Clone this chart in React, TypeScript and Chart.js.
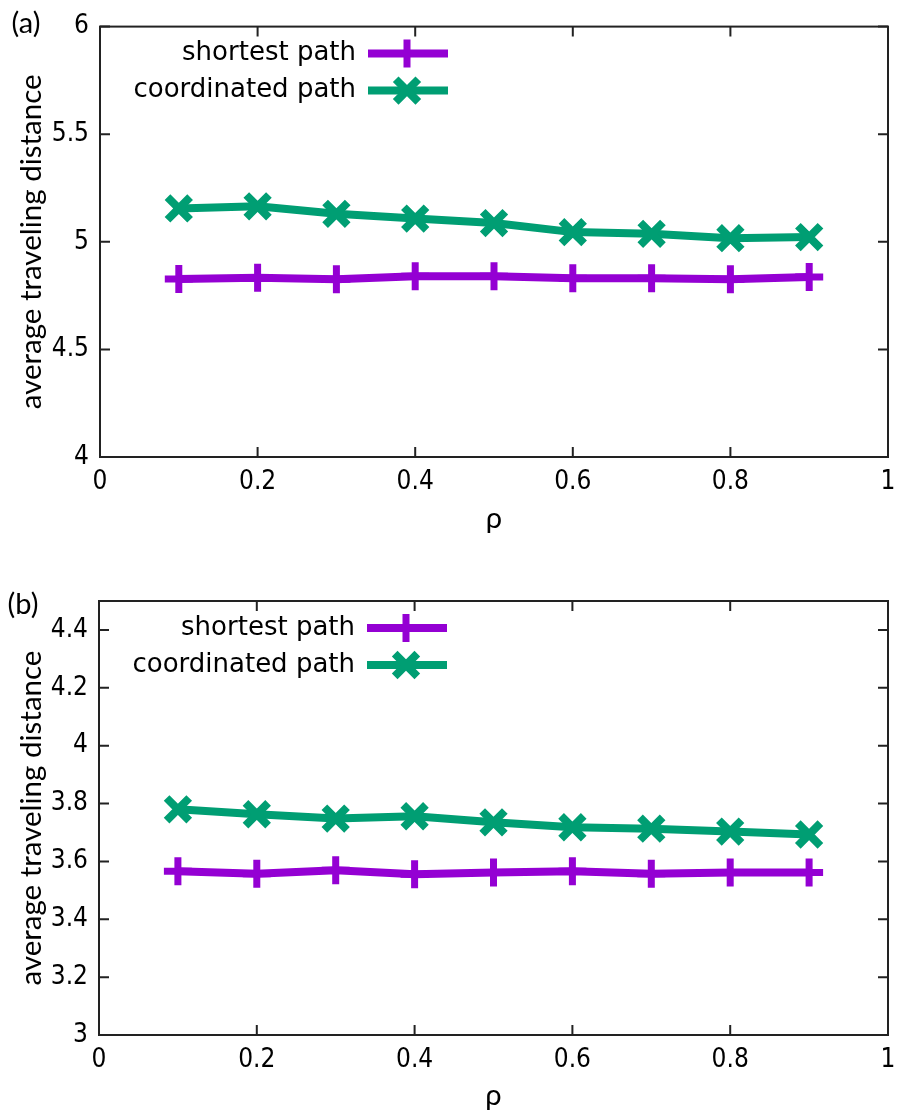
import React, { useEffect, useRef } from 'react';
import { Chart, registerables } from 'chart.js';

Chart.register(...registerables);

// ---------- data ----------
const RHO = [0.1, 0.2, 0.3, 0.4, 0.5, 0.6, 0.7, 0.8, 0.9];

const A_SHORTEST = [4.827, 4.833, 4.826, 4.840, 4.840, 4.831, 4.831, 4.826, 4.837];
const A_COORDINATED = [5.155, 5.165, 5.130, 5.108, 5.087, 5.045, 5.037, 5.017, 5.022];

const B_SHORTEST = [3.566, 3.557, 3.569, 3.556, 3.562, 3.566, 3.557, 3.562, 3.562];
const B_COORDINATED = [3.780, 3.763, 3.748, 3.756, 3.735, 3.718, 3.713, 3.703, 3.693];

const X_TICKS = [0, 0.2, 0.4, 0.6, 0.8, 1];
const A_Y_TICKS = [4, 4.5, 5, 5.5, 6];
const B_Y_TICKS = [3, 3.2, 3.4, 3.6, 3.8, 4, 4.2, 4.4];

const SERIES_LABELS = ['shortest path', 'coordinated path'];
const PANEL_LABELS = ['(a)', '(b)'];
const X_TITLE = 'ρ';
const Y_TITLE = 'average traveling distance';

// ---------- styles ----------
const PURPLE = '#9400D3';
const GREEN = '#009E73';
const FRAME = '#222222';
const TICK_FONT = "'DejaVu Sans Condensed', 'DejaVu Sans', sans-serif";
const LEGEND_FONT = "'DejaVu Sans', sans-serif";
const TITLE_FONT = "Lato, 'Noto Sans', sans-serif";

type PanelCfg = {
  label: string;
  shortest: number[];
  coordinated: number[];
  yMin: number;
  yMax: number;
  yTicks: number[];
  top: number;
  height: number;
  area: { left: number; right: number; top: number; bottom: number };
  xTitlePad: number;
  labelPos: { x: number; y: number };
};

const PANELS: PanelCfg[] = [
  {
    label: PANEL_LABELS[0],
    shortest: A_SHORTEST,
    coordinated: A_COORDINATED,
    yMin: 4,
    yMax: 6,
    yTicks: A_Y_TICKS,
    top: 0,
    height: 556,
    area: { left: 100, right: 900, top: 24, bottom: 457 },
    xTitlePad: 20,
    labelPos: { x: 26, y: 24 },
  },
  {
    label: PANEL_LABELS[1],
    shortest: B_SHORTEST,
    coordinated: B_COORDINATED,
    yMin: 3,
    yMax: 4.5,
    yTicks: B_Y_TICKS,
    top: 556,
    height: 557,
    area: { left: 99, right: 904, top: 45, bottom: 479 },
    xTitlePad: 0,
    labelPos: { x: 23, y: 49 },
  },
];

const fmt = (v: number) => String(Math.round(v * 100) / 100);

function drawMarker(ctx: CanvasRenderingContext2D, kind: 'plus' | 'x', x: number, y: number, r: number) {
  ctx.beginPath();
  if (kind === 'plus') {
    ctx.moveTo(x - r, y);
    ctx.lineTo(x + r, y);
    ctx.moveTo(x, y - r);
    ctx.lineTo(x, y + r);
  } else {
    const d = r * Math.SQRT1_2;
    ctx.moveTo(x - d, y - d);
    ctx.lineTo(x + d, y + d);
    ctx.moveTo(x - d, y + d);
    ctx.lineTo(x + d, y - d);
  }
  ctx.stroke();
}

const MARK_R = [14, 16];
const MARK_W = [7, 8];
const LINE_W = 8;

function makePlugin(cfg: PanelCfg) {
  return {
    id: 'gnuplotFrame',
    afterDraw(chart: any) {
      const { ctx, chartArea } = chart;
      const { left, right, top, bottom } = chartArea;
      const xs = chart.scales.x;
      const ys = chart.scales.y;
      ctx.save();
      // frame
      ctx.strokeStyle = FRAME;
      ctx.lineWidth = 2;
      ctx.strokeRect(left, top, right - left, bottom - top);
      // inward ticks, mirrored
      const TL = 10;
      ctx.beginPath();
      xs.ticks.forEach((t: any) => {
        const px = xs.getPixelForValue(t.value);
        ctx.moveTo(px, bottom);
        ctx.lineTo(px, bottom - TL);
        ctx.moveTo(px, top);
        ctx.lineTo(px, top + TL);
      });
      ys.ticks.forEach((t: any) => {
        const py = ys.getPixelForValue(t.value);
        ctx.moveTo(left, py);
        ctx.lineTo(left + TL, py);
        ctx.moveTo(right, py);
        ctx.lineTo(right - TL, py);
      });
      ctx.stroke();

      // legend (gnuplot style)
      const textRight = left + 256;
      const lineStart = left + 268;
      const lineEnd = left + 348;
      const markX = left + 307;
      const rows = [top + 27, top + 64];
      const colors = [PURPLE, GREEN];
      const kinds: ('plus' | 'x')[] = ['plus', 'x'];
      ctx.font = `26px ${LEGEND_FONT}`;
      ctx.textAlign = 'right';
      ctx.textBaseline = 'middle';
      SERIES_LABELS.forEach((lab, i) => {
        ctx.fillStyle = '#000';
        ctx.fillText(lab, textRight, rows[i]);
        ctx.strokeStyle = colors[i];
        ctx.lineWidth = LINE_W;
        ctx.lineCap = 'butt';
        ctx.beginPath();
        ctx.moveTo(lineStart, rows[i]);
        ctx.lineTo(lineEnd, rows[i]);
        ctx.stroke();
        ctx.lineWidth = MARK_W[i];
        drawMarker(ctx, kinds[i], markX, rows[i], MARK_R[i]);
      });

      // panel label
      ctx.font = `29px ${TITLE_FONT}`;
      ctx.textAlign = 'center';
      ctx.textBaseline = 'middle';
      ctx.fillStyle = '#000';
      ctx.fillText(cfg.label, cfg.labelPos.x, cfg.labelPos.y);
      ctx.restore();
    },
  };
}

function Panel({ cfg }: { cfg: PanelCfg }) {
  const ref = useRef<HTMLCanvasElement>(null);
  useEffect(() => {
    if (!ref.current) return;
    const a = cfg.area;
    const mk = (arr: number[]) => RHO.map((x, i) => ({ x, y: arr[i] }));
    const chart = new Chart(ref.current, {
      type: 'line',
      data: {
        datasets: [
          {
            label: SERIES_LABELS[0],
            data: mk(cfg.shortest),
            borderColor: PURPLE,
            backgroundColor: PURPLE,
            borderWidth: LINE_W,
            pointStyle: 'cross',
            pointRadius: MARK_R[0],
            pointBorderWidth: MARK_W[0],
            pointBorderColor: PURPLE,
            borderJoinStyle: 'round',
            tension: 0,
            fill: false,
          },
          {
            label: SERIES_LABELS[1],
            data: mk(cfg.coordinated),
            borderColor: GREEN,
            backgroundColor: GREEN,
            borderWidth: LINE_W,
            pointStyle: 'crossRot',
            pointRadius: MARK_R[1],
            pointBorderWidth: MARK_W[1],
            pointBorderColor: GREEN,
            borderJoinStyle: 'round',
            tension: 0,
            fill: false,
          },
        ],
      },
      options: {
        animation: false,
        responsive: false,
        devicePixelRatio: 1,
        events: [],
        layout: { padding: { left: 0, right: 912 - a.right, top: a.top, bottom: 0 } },
        plugins: { legend: { display: false }, tooltip: { enabled: false } },
        scales: {
          x: {
            type: 'linear',
            min: 0,
            max: 1,
            afterBuildTicks: (s: any) => {
              s.ticks = X_TICKS.map((v) => ({ value: v }));
            },
            afterFit: (s: any) => {
              s.height = cfg.height - a.bottom;
            },
            grid: { display: false, drawTicks: false },
            border: { display: false },
            ticks: {
              padding: 10,
              color: '#000',
              font: { family: TICK_FONT, size: 26 },
              maxRotation: 0,
              autoSkip: false,
              callback: (v: any) => fmt(Number(v)),
            },
            title: {
              display: true,
              text: X_TITLE,
              color: '#000',
              font: { family: TITLE_FONT, size: 29 },
              padding: { top: 0, bottom: cfg.xTitlePad },
            },
          },
          y: {
            type: 'linear',
            min: cfg.yMin,
            max: cfg.yMax,
            afterBuildTicks: (s: any) => {
              s.ticks = cfg.yTicks.map((v) => ({ value: v }));
            },
            afterFit: (s: any) => {
              s.width = a.left;
            },
            grid: { display: false, drawTicks: false },
            border: { display: false },
            ticks: {
              padding: 11,
              color: '#000',
              font: { family: TICK_FONT, size: 26 },
              autoSkip: false,
              callback: (v: any) => fmt(Number(v)),
            },
            title: {
              display: true,
              text: Y_TITLE,
              color: '#000',
              font: { family: TITLE_FONT, size: 29.5 },
              padding: { top: 14, bottom: 0 },
            },
          },
        },
      },
      plugins: [makePlugin(cfg)],
    } as any);
    return () => chart.destroy();
  }, [cfg]);
  return (
    <canvas
      ref={ref}
      width={912}
      height={cfg.height}
      style={{ position: 'absolute', left: 0, top: cfg.top, width: 912, height: cfg.height, display: 'block' }}
    />
  );
}

export default function App() {
  return (
    <div style={{ position: 'absolute', left: 0, top: 0, width: 912, height: 1113, background: '#fff', overflow: 'hidden' }}>
      {PANELS.map((p) => (
        <Panel key={p.label} cfg={p} />
      ))}
    </div>
  );
}
